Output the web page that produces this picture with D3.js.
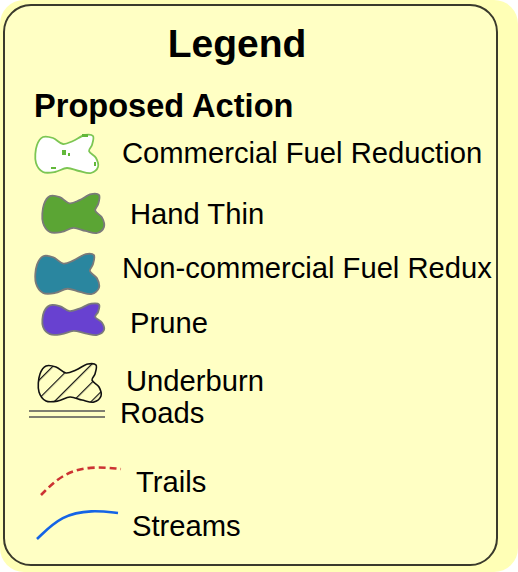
<!DOCTYPE html>
<html>
<head>
<meta charset="utf-8">
<script src="https://cdn.jsdelivr.net/npm/d3@7"></script>
<style>
  body { margin: 0; background: #ffffff; }
  svg { display: block; font-family: "Liberation Sans", Arial, sans-serif; }
</style>
</head>
<body>
<div id="legend"></div>
<script>
// legend content
const titleText = "Legend";
const sectionText = "Proposed Action";

const actionLabels = ["Commercial Fuel Reduction", "Hand Thin", "Non-commercial Fuel Redux", "Prune", "Underburn"];
const actionFills = ["#ffffff", "#5ba534", "#2a869f", "#6841d0", "hatch"];
const actionStrokes = ["#7cc653", "#7a7a7a", "#7a7a7a", "#7a7a7a", "#111111"];

const lineLabels = ["Roads", "Trails", "Streams"];
const lineColors = ["#555555", "#cc3333", "#1464e6"];

// layout (pixel placement of each row, kept apart from the data)
const actionRows = [
    { bx: 35, by: 133, bw: 64, bh: 40, tx: 122, ty: 163 },
    { bx: 42, by: 192, bw: 63, bh: 41, tx: 130, ty: 224 },
    { bx: 35, by: 252, bw: 65, bh: 42, tx: 122, ty: 278 },
    { bx: 42, by: 302, bw: 63, bh: 33, tx: 130, ty: 333 },
    { bx: 38, by: 362, bw: 64, bh: 40, tx: 126, ty: 391 }
];
const lineRows = [
    { tx: 120, ty: 423 },
    { tx: 136, ty: 492 },
    { tx: 132, ty: 536 }
];

const width = 518, height = 572;

const svg = d3.select("#legend").append("svg")
    .attr("width", width)
    .attr("height", height);

// hatch pattern for underburn
const defs = svg.append("defs");
defs.append("pattern")
    .attr("id", "hatch")
    .attr("patternUnits", "userSpaceOnUse")
    .attr("width", 13)
    .attr("height", 13)
    .attr("patternTransform", "rotate(-45)")
    .append("line")
    .attr("x1", 0).attr("y1", 0)
    .attr("x2", 13).attr("y2", 0)
    .attr("stroke", "#111")
    .attr("stroke-width", 2.4);

// backgrounds
svg.append("rect")
    .attr("x", 0).attr("y", 0)
    .attr("width", width).attr("height", height)
    .attr("rx", 24)
    .attr("fill", "#ffffb6");

svg.append("rect")
    .attr("x", 4).attr("y", 5)
    .attr("width", 493).attr("height", 560)
    .attr("rx", 27)
    .attr("fill", "#ffffc4")
    .attr("stroke", "#3a3a2c")
    .attr("stroke-width", 2);

// titles
svg.append("text")
    .attr("x", 237).attr("y", 57)
    .attr("text-anchor", "middle")
    .style("font-size", "39px")
    .style("font-weight", "bold")
    .text(titleText);

svg.append("text")
    .attr("x", 34).attr("y", 117)
    .style("font-size", "32.6px")
    .style("font-weight", "bold")
    .text(sectionText);

// blob swatch shape (unit outline 64 x 40)
const blobPoints = [[2,12],[8,4],[18,5],[28,11],[38,8],[50,2],[58,3],[57,12],[54,18],[61,25],[63,34],[56,40],[44,38],[32,35],[20,39],[8,39],[1,30]];

const blob = d3.line().curve(d3.curveCatmullRomClosed);

const swatches = svg.selectAll(".swatch")
    .data(actionLabels)
    .enter().append("g")
    .attr("class", "swatch")
    .attr("transform", function(d, i) {
        let r = actionRows[i];
        return "translate(" + r.bx + "," + r.by + ")";
    });

swatches.append("path")
    .attr("d", function(d, i) {
        let r = actionRows[i];
        let sx = d3.scaleLinear().domain([0, 64]).range([0, r.bw]);
        let sy = d3.scaleLinear().domain([0, 40]).range([0, r.bh]);
        return blob(blobPoints.map(function(p) { return [sx(p[0]), sy(p[1])]; }));
    })
    .attr("fill", function(d, i) {
        return actionFills[i] === "hatch" ? "url(#hatch)" : actionFills[i];
    })
    .attr("stroke", function(d, i) { return actionStrokes[i]; })
    .attr("stroke-width", function(d, i) { return i === 4 ? 1.6 : 1.8; });

// green speckles inside the commercial swatch
const speckles = [[47,1,6,3],[27,17,4,5],[16,34,5,2],[59,29,2,4],[33,20,2,3]];
swatches.filter(function(d, i) { return i === 0; })
    .selectAll(".speck")
    .data(speckles)
    .enter().append("rect")
    .attr("class", "speck")
    .attr("x", function(d) { return d[0]; })
    .attr("y", function(d) { return d[1]; })
    .attr("width", function(d) { return d[2]; })
    .attr("height", function(d) { return d[3]; })
    .attr("fill", "#62b83a");

svg.selectAll(".action-label")
    .data(actionLabels)
    .enter().append("text")
    .attr("class", "action-label")
    .attr("x", function(d, i) { return actionRows[i].tx; })
    .attr("y", function(d, i) { return actionRows[i].ty; })
    .style("font-size", "29.2px")
    .text(function(d) { return d; });

// roads: double line
[411, 417].forEach(function(y) {
    svg.append("line")
        .attr("x1", 29).attr("x2", 105)
        .attr("y1", y).attr("y2", y)
        .attr("stroke", lineColors[0])
        .attr("stroke-width", 1.6);
});

// trails and streams: curved lines
const curve = d3.line().curve(d3.curveBasis);

svg.append("path")
    .attr("d", curve([[41, 495], [62, 474], [90, 466], [121, 469]]))
    .attr("fill", "none")
    .attr("stroke", lineColors[1])
    .attr("stroke-width", 2.6)
    .attr("stroke-dasharray", "7,4");

svg.append("path")
    .attr("d", curve([[37, 539], [62, 515], [92, 510], [118, 513]]))
    .attr("fill", "none")
    .attr("stroke", lineColors[2])
    .attr("stroke-width", 2.6);

svg.selectAll(".line-label")
    .data(lineLabels)
    .enter().append("text")
    .attr("class", "line-label")
    .attr("x", function(d, i) { return lineRows[i].tx; })
    .attr("y", function(d, i) { return lineRows[i].ty; })
    .style("font-size", "29.2px")
    .text(function(d) { return d; });
</script>
</body>
</html>
